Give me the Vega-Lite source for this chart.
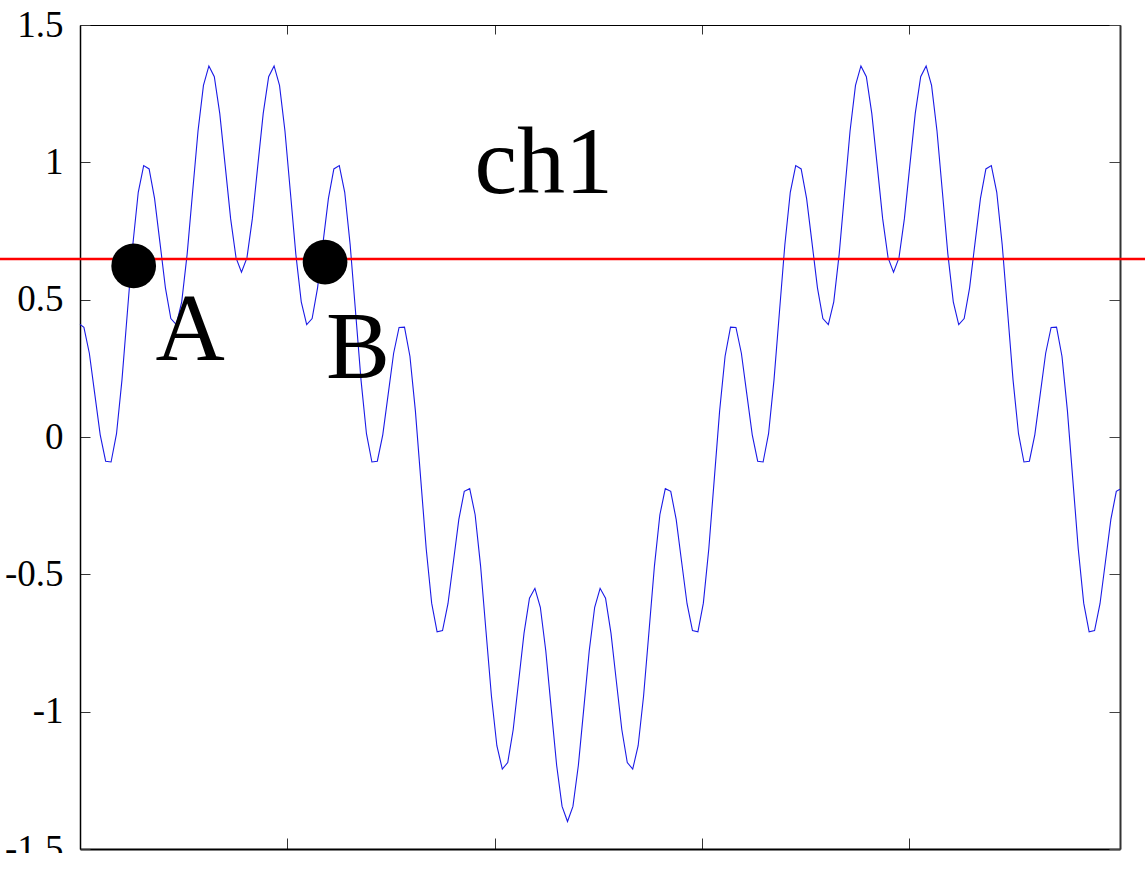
{
  "$schema": "https://vega.github.io/schema/vega-lite/v6.json",
  "autosize": {"type": "none"},
  "padding": {"left": 80, "top": 25, "right": 25, "bottom": 4},
  "width": 1040,
  "height": 824,
  "background": "white",
  "config": {"view": {"stroke": null}},
  "datasets": {
    "signal": [
      {"x":0,"y":0.410},{"x":3.6,"y":0.399},{"x":8.6,"y":0.305},{"x":13.6,"y":0.156},{"x":18.6,"y":0.008},{"x":23.6,"y":-0.088},{"x":28.6,"y":-0.091},{"x":33.6,"y":0.012},{"x":38.6,"y":0.207},{"x":43.6,"y":0.454},{"x":48.6,"y":0.700},{"x":53.6,"y":0.891},{"x":58.6,"y":0.988},{"x":63.6,"y":0.976},{"x":68.6,"y":0.869},{"x":73.6,"y":0.707},{"x":78.6,"y":0.543},{"x":83.6,"y":0.431},{"x":88.6,"y":0.409},{"x":93.6,"y":0.492},{"x":98.6,"y":0.666},{"x":103.6,"y":0.891},{"x":108.6,"y":1.114},{"x":113.6,"y":1.280},{"x":118.6,"y":1.351},{"x":123.6,"y":1.312},{"x":128.6,"y":1.178},{"x":133.6,"y":0.988},{"x":138.6,"y":0.795},{"x":143.6,"y":0.652},{"x":148.6,"y":0.600},{"x":153.6,"y":0.652},{"x":158.6,"y":0.795},{"x":163.6,"y":0.988},{"x":168.6,"y":1.178},{"x":173.6,"y":1.312},{"x":178.6,"y":1.351},{"x":183.6,"y":1.280},{"x":188.6,"y":1.114},{"x":193.6,"y":0.891},{"x":198.6,"y":0.666},{"x":203.6,"y":0.492},{"x":208.6,"y":0.409},{"x":213.6,"y":0.431},{"x":218.6,"y":0.543},{"x":223.6,"y":0.707},{"x":228.6,"y":0.869},{"x":233.6,"y":0.976},{"x":238.6,"y":0.988},{"x":243.6,"y":0.891},{"x":248.6,"y":0.700},{"x":253.6,"y":0.454},{"x":258.6,"y":0.207},{"x":263.6,"y":0.012},{"x":268.6,"y":-0.091},{"x":273.6,"y":-0.088},{"x":278.6,"y":0.008},{"x":283.6,"y":0.156},{"x":288.6,"y":0.305},{"x":293.6,"y":0.399},{"x":298.6,"y":0.400},{"x":303.6,"y":0.294},{"x":308.6,"y":0.096},{"x":313.6,"y":-0.156},{"x":318.6,"y":-0.408},{"x":323.6,"y":-0.605},{"x":328.6,"y":-0.709},{"x":333.6,"y":-0.705},{"x":338.6,"y":-0.607},{"x":343.6,"y":-0.454},{"x":348.6,"y":-0.300},{"x":353.6,"y":-0.198},{"x":358.6,"y":-0.188},{"x":363.6,"y":-0.283},{"x":368.6,"y":-0.469},{"x":373.6,"y":-0.707},{"x":378.6,"y":-0.943},{"x":383.6,"y":-1.124},{"x":388.6,"y":-1.209},{"x":393.6,"y":-1.185},{"x":398.6,"y":-1.066},{"x":403.6,"y":-0.891},{"x":408.6,"y":-0.714},{"x":413.6,"y":-0.587},{"x":418.6,"y":-0.551},{"x":423.6,"y":-0.620},{"x":428.6,"y":-0.778},{"x":433.6,"y":-0.988},{"x":438.6,"y":-1.195},{"x":443.6,"y":-1.345},{"x":448.6,"y":-1.400},{"x":453.6,"y":-1.345},{"x":458.6,"y":-1.195},{"x":463.6,"y":-0.988},{"x":468.6,"y":-0.778},{"x":473.6,"y":-0.620},{"x":478.6,"y":-0.551},{"x":483.6,"y":-0.587},{"x":488.6,"y":-0.714},{"x":493.6,"y":-0.891},{"x":498.6,"y":-1.066},{"x":503.6,"y":-1.185},{"x":508.6,"y":-1.209},{"x":513.6,"y":-1.124},{"x":518.6,"y":-0.943},{"x":523.6,"y":-0.707},{"x":528.6,"y":-0.469},{"x":533.6,"y":-0.283},{"x":538.6,"y":-0.188},{"x":543.6,"y":-0.198},{"x":548.6,"y":-0.300},{"x":553.6,"y":-0.454},{"x":558.6,"y":-0.607},{"x":563.6,"y":-0.705},{"x":568.6,"y":-0.709},{"x":573.6,"y":-0.605},{"x":578.6,"y":-0.408},{"x":583.6,"y":-0.156},{"x":588.6,"y":0.096},{"x":593.6,"y":0.294},{"x":598.6,"y":0.400},{"x":603.6,"y":0.399},{"x":608.6,"y":0.305},{"x":613.6,"y":0.156},{"x":618.6,"y":0.008},{"x":623.6,"y":-0.088},{"x":628.6,"y":-0.091},{"x":633.6,"y":0.012},{"x":638.6,"y":0.207},{"x":643.6,"y":0.454},{"x":648.6,"y":0.700},{"x":653.6,"y":0.891},{"x":658.6,"y":0.988},{"x":663.6,"y":0.976},{"x":668.6,"y":0.869},{"x":673.6,"y":0.707},{"x":678.6,"y":0.543},{"x":683.6,"y":0.431},{"x":688.6,"y":0.409},{"x":693.6,"y":0.492},{"x":698.6,"y":0.666},{"x":703.6,"y":0.891},{"x":708.6,"y":1.114},{"x":713.6,"y":1.280},{"x":718.6,"y":1.351},{"x":723.6,"y":1.312},{"x":728.6,"y":1.178},{"x":733.6,"y":0.988},{"x":738.6,"y":0.795},{"x":743.6,"y":0.652},{"x":748.6,"y":0.600},{"x":753.6,"y":0.652},{"x":758.6,"y":0.795},{"x":763.6,"y":0.988},{"x":768.6,"y":1.178},{"x":773.6,"y":1.312},{"x":778.6,"y":1.351},{"x":783.6,"y":1.280},{"x":788.6,"y":1.114},{"x":793.6,"y":0.891},{"x":798.6,"y":0.666},{"x":803.6,"y":0.492},{"x":808.6,"y":0.409},{"x":813.6,"y":0.431},{"x":818.6,"y":0.543},{"x":823.6,"y":0.707},{"x":828.6,"y":0.869},{"x":833.6,"y":0.976},{"x":838.6,"y":0.988},{"x":843.6,"y":0.891},{"x":848.6,"y":0.700},{"x":853.6,"y":0.454},{"x":858.6,"y":0.207},{"x":863.6,"y":0.012},{"x":868.6,"y":-0.091},{"x":873.6,"y":-0.088},{"x":878.6,"y":0.008},{"x":883.6,"y":0.156},{"x":888.6,"y":0.305},{"x":893.6,"y":0.399},{"x":898.6,"y":0.400},{"x":903.6,"y":0.294},{"x":908.6,"y":0.096},{"x":913.6,"y":-0.156},{"x":918.6,"y":-0.408},{"x":923.6,"y":-0.605},{"x":928.6,"y":-0.709},{"x":933.6,"y":-0.705},{"x":938.6,"y":-0.607},{"x":943.6,"y":-0.454},{"x":948.6,"y":-0.300},{"x":953.6,"y":-0.198},{"x":957,"y":-0.190}
    ],
    "threshold": [{"x": -80, "x2": 1000, "y": 0.648}],
    "markers": [{"name": "A", "x": 49.4, "y": 0.623}, {"name": "B", "x": 225.5, "y": 0.637}],
    "labels": [
      {"text": "A", "x": 69.5, "y": 0.280},
      {"text": "B", "x": 226.4, "y": 0.215},
      {"text": "ch1", "x": 363.0, "y": 0.888}
    ]
  },
  "layer": [
    {
      "data": {"name": "signal"},
      "mark": {"type": "line", "color": "#1a1ae6", "strokeWidth": 1.1, "interpolate": "linear"},
      "encoding": {
        "x": {"field": "x", "type": "quantitative",
          "scale": {"domain": [0, 957], "nice": false, "zero": false},
          "axis": {"orient": "bottom", "title": null, "labels": false, "grid": false,
            "values": [190.8, 381.6, 572.4, 763.2], "tickSize": -11, "tickColor": "#333", "tickWidth": 1,
            "domainColor": "black", "domainWidth": 2}},
        "y": {"field": "y", "type": "quantitative",
          "scale": {"domain": [-1.5, 1.5], "nice": false, "zero": false},
          "axis": {"orient": "left", "title": null, "grid": false,
            "values": [-1.5, -1, -0.5, 0, 0.5, 1, 1.5],
            "labelExpr": "datum.value < 0 ? '-' + toString(-datum.value) : toString(datum.value)",
            "tickSize": -10, "tickColor": "#333", "tickWidth": 1,
            "domainColor": "black", "domainWidth": 1.5,
            "labelFont": "Liberation Serif", "labelFontSize": 37, "labelColor": "black",
            "labelPadding": 27, "labelFlush": false, "labelOverlap": false, "labelBound": false}}
      }
    },
    {
      "data": {"name": "threshold"},
      "mark": {"type": "rule", "color": "#ff0000", "strokeWidth": 2.5, "clip": false},
      "encoding": {
        "x": {"field": "x", "type": "quantitative",
          "scale": {"domain": [0, 957], "nice": false, "zero": false},
          "axis": {"orient": "top", "title": null, "labels": false, "grid": false,
            "values": [190.8, 381.6, 572.4, 763.2], "tickSize": -9, "tickColor": "#333", "tickWidth": 1,
            "domainColor": "black", "domainWidth": 1.2}},
        "x2": {"field": "x2"},
        "y": {"field": "y", "type": "quantitative",
          "scale": {"domain": [-1.5, 1.5], "nice": false, "zero": false},
          "axis": {"orient": "right", "title": null, "labels": false, "grid": false,
            "values": [-1.5, -1, -0.5, 0, 0.5, 1, 1.5], "tickSize": -11, "tickColor": "#444", "tickWidth": 1,
            "domainColor": "#333", "domainWidth": 2}}
      }
    },
    {
      "data": {"name": "markers"},
      "mark": {"type": "point", "shape": "circle", "filled": true, "color": "black", "opacity": 1, "size": 2000, "strokeWidth": 0},
      "encoding": {
        "x": {"field": "x", "type": "quantitative", "scale": {"domain": [0, 957], "nice": false, "zero": false}, "axis": null},
        "y": {"field": "y", "type": "quantitative", "scale": {"domain": [-1.5, 1.5], "nice": false, "zero": false}, "axis": null}
      }
    },
    {
      "data": {"name": "labels"},
      "mark": {"type": "text", "font": "Liberation Serif", "fontSize": 96, "align": "left", "baseline": "alphabetic", "color": "black"},
      "encoding": {
        "x": {"field": "x", "type": "quantitative", "scale": {"domain": [0, 957], "nice": false, "zero": false}, "axis": null},
        "y": {"field": "y", "type": "quantitative", "scale": {"domain": [-1.5, 1.5], "nice": false, "zero": false}, "axis": null},
        "text": {"field": "text"}
      }
    }
  ],
  "resolve": {"axis": {"x": "independent", "y": "independent"}}
}
